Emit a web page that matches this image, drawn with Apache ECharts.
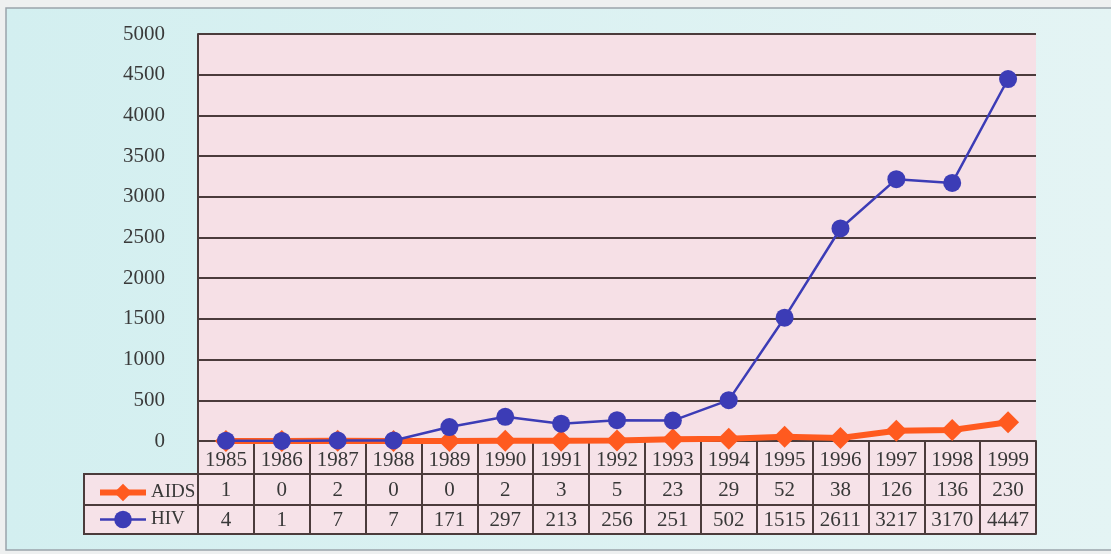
<!DOCTYPE html>
<html>
<head>
<meta charset="utf-8">
<script src="https://cdn.jsdelivr.net/npm/echarts@6/dist/echarts.min.js"></script>
<style>
html,body{margin:0;padding:0;background:#eef0f0;}
#c{width:1111px;height:554px;}
</style>
</head>
<body>
<div id="c"></div>
<script>
// ---- data ----
const years = ['1985','1986','1987','1988','1989','1990','1991','1992','1993','1994','1995','1996','1997','1998','1999'];
const aids = [1,0,2,0,0,2,3,5,23,29,52,38,126,136,230];
const hiv = [4,1,7,7,171,297,213,256,251,502,1515,2611,3217,3170,4447];
const yMin = 0, yMax = 5000, yStep = 500;
const seriesNames = ['AIDS','HIV'];

// ---- layout ----
const W = 1111, H = 554;
const gridLeft = 198, gridRight = 75, gridTop = 34, gridBottom = 113;
const zeroY = H - gridBottom;          // 441
const rowH = [33, 31, 29];             // years, AIDS, HIV rows
const legLeft = 84;
const lineColor = '#4b3b3b';
const textColor = '#383838';
const font = 'Liberation Serif';
const tableH = rowH[0] + rowH[1] + rowH[2];

const chart = echarts.init(document.getElementById('c'));

function tableAxis(offset, labels, margin, showTicks) {
  return {
    type: 'category',
    gridIndex: 0,
    position: 'bottom',
    offset: offset,
    data: years,
    boundaryGap: true,
    axisLine: { show: true, lineStyle: { color: lineColor, width: 2 } },
    axisTick: showTicks
      ? { show: true, interval: 0, length: tableH, lineStyle: { color: lineColor, width: 2 } }
      : { show: false },
    axisLabel: labels
      ? { show: true, interval: 0, margin: margin, fontFamily: font, fontSize: 21, color: textColor,
          formatter: (v, i) => String(labels[i]) }
      : { show: false },
    splitLine: { show: false }
  };
}

const option = {
  backgroundColor: 'transparent',
  animation: false,
  grid: {
    left: gridLeft, right: gridRight, top: gridTop, bottom: gridBottom,
    show: true, backgroundColor: '#f6e0e6', borderWidth: 0
  },
  legend: {
    orient: 'vertical',
    left: legLeft + 8,
    top: zeroY + rowH[0] + 4,
    itemWidth: 46,
    itemHeight: 22,
    itemGap: 8,
    lineStyle: { width: 'inherit' },
    textStyle: { fontFamily: font, fontSize: 19, color: textColor },
    data: seriesNames
  },
  xAxis: [
    tableAxis(0, years, 9, true),
    tableAxis(rowH[0], aids, 6, false),
    tableAxis(rowH[0] + rowH[1], hiv, 5, false),
    tableAxis(tableH, null, 0, false)
  ],
  yAxis: {
    type: 'value',
    min: yMin, max: yMax, interval: yStep,
    axisLine: { show: true, lineStyle: { color: lineColor, width: 2 } },
    axisTick: { show: false },
    axisLabel: { margin: 33, fontFamily: font, fontSize: 21, color: '#3a3a3a', formatter: v => String(v) },
    splitLine: { show: true, lineStyle: { color: lineColor, width: 2 } }
  },
  graphic: [
    {
      type: 'rect', z: -100, silent: true,
      shape: { x: 6, y: 8, width: W, height: 542 },
      style: {
        fill: new echarts.graphic.LinearGradient(0, 0, 1, 0, [
          { offset: 0, color: '#d3eff0' }, { offset: 1, color: '#e4f4f4' }
        ]),
        stroke: '#9aa4aa', lineWidth: 1.5
      }
    },
    {
      type: 'rect', z: -50, silent: true,
      shape: { x: gridLeft, y: zeroY, width: W - gridLeft - gridRight, height: tableH },
      style: { fill: '#f6e2e8' }
    },
    {
      type: 'rect', z: -50, silent: true,
      shape: { x: legLeft, y: zeroY + rowH[0], width: gridLeft - legLeft, height: rowH[1] + rowH[2] },
      style: { fill: '#f6e2e8', stroke: lineColor, lineWidth: 2 }
    },
    {
      type: 'line', z: 10, silent: true,
      shape: { x1: legLeft, y1: zeroY + rowH[0] + rowH[1], x2: gridLeft, y2: zeroY + rowH[0] + rowH[1] },
      style: { stroke: lineColor, lineWidth: 2 }
    }
  ],
  series: [
    {
      name: seriesNames[0], type: 'line', data: aids, xAxisIndex: 0,
      symbol: 'diamond', symbolSize: 22, z: 3,
      lineStyle: { color: '#ff5a1f', width: 6 },
      itemStyle: { color: '#ff5a1f' }
    },
    {
      name: seriesNames[1], type: 'line', data: hiv, xAxisIndex: 0,
      symbol: 'circle', symbolSize: 18, z: 4,
      lineStyle: { color: '#3c3cb6', width: 2.5 },
      itemStyle: { color: '#3c3cb6' }
    }
  ]
};
chart.setOption(option);
</script>
</body>
</html>
